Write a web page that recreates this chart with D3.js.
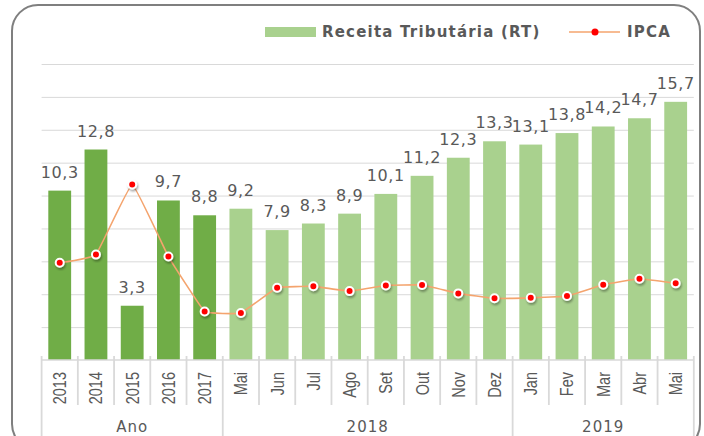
<!DOCTYPE html>
<html>
<head>
<meta charset="utf-8">
<script src="https://cdn.jsdelivr.net/npm/d3@7"></script>
<style>
  html, body { margin: 0; padding: 0; background: #fff; }
  svg { display: block; }
</style>
</head>
<body>
<svg id="chart" width="704" height="436"></svg>
<script>
// Categories (x axis) and their groups
const categories = ["2013", "2014", "2015", "2016", "2017", "Mai", "Jun", "Jul", "Ago", "Set", "Out", "Nov", "Dez", "Jan", "Fev", "Mar", "Abr", "Mai"];
const groupLabels = ["Ano", "2018", "2019"];
const groupSizes = [5, 8, 5];

// Series values
const receita = [10.3, 12.8, 3.3, 9.7, 8.8, 9.2, 7.9, 8.3, 8.9, 10.1, 11.2, 12.3, 13.3, 13.1, 13.8, 14.2, 14.7, 15.7];
const ipca = [5.91, 6.41, 10.67, 6.29, 2.95, 2.86, 4.39, 4.48, 4.19, 4.53, 4.56, 4.05, 3.75, 3.78, 3.89, 4.58, 4.94, 4.66];
const gridValues = [2, 4, 6, 8, 10, 12, 14, 16, 18];

const darkGreen = "#70AD47";
const lightGreen = "#A9D18E";
const lineColor = "#F4A46E";
const textColor = "#595959";
const gridColor = "#D9D9D9";

const svg = d3.select("#chart");
const margin = { top: 64, right: 10, bottom: 76, left: 41.6 };
const plotRight = 693.8;
const baseY = 360;

// Chart border
svg.append("rect")
  .attr("x", 12).attr("y", 5)
  .attr("width", 688).attr("height", 445)
  .attr("rx", 26)
  .attr("fill", "#fff")
  .attr("stroke", "#7F7F7F")
  .attr("stroke-width", 2);

// Scales
const x = d3.scaleBand()
  .domain(d3.range(categories.length))
  .range([margin.left, plotRight])
  .paddingInner(0.37)
  .paddingOuter(0.185);

const y = d3.scaleLinear()
  .domain([0, 18])
  .range([baseY, margin.top]);

// Drop shadow for markers
const defs = svg.append("defs");
const filter = defs.append("filter").attr("id", "shadow")
  .attr("x", "-50%").attr("y", "-50%").attr("width", "200%").attr("height", "200%");
filter.append("feDropShadow")
  .attr("dx", 1).attr("dy", 2)
  .attr("stdDeviation", 1.2)
  .attr("flood-color", "#000")
  .attr("flood-opacity", 0.35);

// Gridlines
svg.append("g")
  .selectAll("line")
  .data(gridValues)
  .enter()
  .append("line")
  .attr("x1", margin.left)
  .attr("x2", plotRight)
  .attr("y1", (d) => y(d) + 0.5)
  .attr("y2", (d) => y(d) + 0.5)
  .attr("stroke", gridColor)
  .attr("stroke-width", 1);

// Bars
svg.append("g")
  .selectAll("rect")
  .data(receita)
  .enter()
  .append("rect")
  .attr("x", (d, i) => x(i))
  .attr("y", (d) => y(d))
  .attr("width", x.bandwidth())
  .attr("height", (d) => y(0) - y(d))
  .attr("fill", (d, i) => (i < groupSizes[0] ? darkGreen : lightGreen));

// Bar value labels
svg.append("g")
  .selectAll("text")
  .data(receita)
  .enter()
  .append("text")
  .attr("x", (d, i) => x(i) + x.bandwidth() / 2)
  .attr("y", (d) => y(d) - 13)
  .attr("text-anchor", "middle")
  .attr("font-family", "DejaVu Sans")
  .attr("font-size", "16px")
  .attr("letter-spacing", "0.6px")
  .attr("fill", textColor)
  .text((d) => d.toFixed(1).replace(".", ","));

// Axis line
svg.append("line")
  .attr("x1", margin.left).attr("x2", plotRight)
  .attr("y1", baseY).attr("y2", baseY)
  .attr("stroke", gridColor)
  .attr("stroke-width", 1.5);

// Category separators (longer ones at group boundaries)
const groupStarts = [0];
groupSizes.forEach((s, i) => groupStarts.push(groupStarts[i] + s));
const step = x.step();
svg.append("g")
  .selectAll("line")
  .data(d3.range(categories.length + 1))
  .enter()
  .append("line")
  .attr("x1", (i) => margin.left + i * step)
  .attr("x2", (i) => margin.left + i * step)
  .attr("y1", baseY - 4)
  .attr("y2", (i) => (groupStarts.includes(i) ? 440 : 405))
  .attr("stroke", gridColor)
  .attr("stroke-width", 1.8);

// Category labels (rotated)
svg.append("g")
  .selectAll("text")
  .data(categories)
  .enter()
  .append("text")
  .attr("transform", (d, i) => `translate(${x(i) + x.bandwidth() / 2 + 6.5},372) rotate(-90) scale(1,1.28)`)
  .attr("text-anchor", "end")
  .attr("font-family", "Liberation Sans")
  .attr("font-size", "14.5px")
  .attr("fill", textColor)
  .text((d) => d);

// Group labels
svg.append("g")
  .selectAll("text")
  .data(groupLabels)
  .enter()
  .append("text")
  .attr("x", (d, i) => margin.left + ((groupStarts[i] + groupStarts[i + 1]) / 2) * step)
  .attr("y", 432)
  .attr("text-anchor", "middle")
  .attr("font-family", "DejaVu Sans")
  .attr("font-size", "15px")
  .attr("letter-spacing", "1px")
  .attr("fill", textColor)
  .text((d) => d);

// IPCA line
const line = d3.line()
  .x((d, i) => x(i) + x.bandwidth() / 2)
  .y((d) => y(d))
  .curve(d3.curveCardinal.tension(0.75));

svg.append("path")
  .datum(ipca)
  .attr("d", line)
  .attr("fill", "none")
  .attr("stroke", lineColor)
  .attr("stroke-width", 1.6);

svg.append("g")
  .selectAll("circle")
  .data(ipca)
  .enter()
  .append("circle")
  .attr("cx", (d, i) => x(i) + x.bandwidth() / 2)
  .attr("cy", (d) => y(d))
  .attr("r", 4)
  .attr("fill", "#FF0000")
  .attr("stroke", "#fff")
  .attr("stroke-width", 2)
  .attr("filter", "url(#shadow)");

// Legend
const legend = svg.append("g");
legend.append("rect")
  .attr("x", 265).attr("y", 27)
  .attr("width", 51).attr("height", 10)
  .attr("fill", lightGreen);
legend.append("text")
  .attr("x", 322).attr("y", 37)
  .attr("font-family", "DejaVu Sans")
  .attr("font-weight", "bold")
  .attr("font-size", "15px")
  .attr("letter-spacing", "1.2px")
  .attr("fill", textColor)
  .text("Receita Tributária (RT)");
legend.append("line")
  .attr("x1", 569).attr("x2", 620)
  .attr("y1", 32).attr("y2", 32)
  .attr("stroke", lineColor)
  .attr("stroke-width", 1.6);
legend.append("circle")
  .attr("cx", 595).attr("cy", 32)
  .attr("r", 3.5)
  .attr("fill", "#FF0000");
legend.append("text")
  .attr("x", 627).attr("y", 37)
  .attr("font-family", "DejaVu Sans")
  .attr("font-weight", "bold")
  .attr("font-size", "15px")
  .attr("letter-spacing", "1.2px")
  .attr("fill", textColor)
  .text("IPCA");
</script>
</body>
</html>
